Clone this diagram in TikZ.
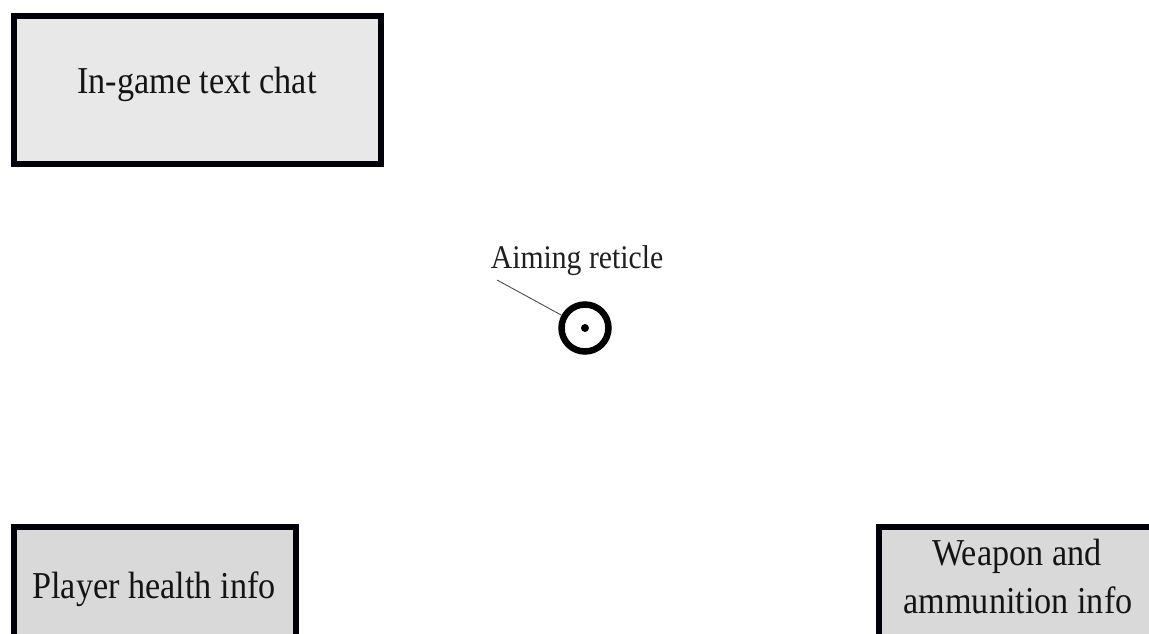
\documentclass[tikz,border=0pt]{standalone}
\usepackage{fontspec}
\setmainfont{Liberation Serif}[FakeStretch=0.9]
\begin{document}
\begin{tikzpicture}[x=1pt,y=-1pt,
  panel/.style={draw=black!97!blue, line width=6pt, inner sep=0pt, outer sep=0pt},
  boxtext/.style={font=\fontsize{38}{48}\selectfont, inner sep=0pt, text=black!92},
  labeltext/.style={font=\fontsize{33}{40}\selectfont, inner sep=0pt, text=black!88},
]
\clip (0,0) rectangle (1149,634);
\fill[white] (0,0) rectangle (1149,634);
% boxes
\node[panel, fill=black!9, minimum width=367pt, minimum height=148pt] (chat) at (197.5,90) {};
\node[panel, fill=black!15, minimum width=282pt, minimum height=160pt] (health) at (155,606.5) {};
\node[panel, fill=black!15, minimum width=300pt, minimum height=160pt] (weapon) at (1028.5,607) {};
% texts
\node[boxtext, anchor=base] (chatlbl) at (197,93) {In-game text chat};
\node[boxtext, anchor=base] (healthlbl) at (154,598) {Player health info};
\node[boxtext, anchor=base] (weaponlbl1) at (1017,565) {Weapon and};
\node[boxtext, anchor=base] (weaponlbl2) at (1018,613) {ammunition info};
% reticle
\node[labeltext, anchor=base] (retlbl) at (577,268) {Aiming reticle};
\node[circle, draw=black, line width=6.5pt, minimum size=47pt, inner sep=0pt] (ret) at (585,328) {};
\node[circle, fill=black, minimum size=8pt, inner sep=0pt] (dot) at (ret.center) {};
\coordinate (lead) at (497,280);
\draw[black!70, line width=0.9pt] (lead) -- (ret);
\end{tikzpicture}
\end{document}
